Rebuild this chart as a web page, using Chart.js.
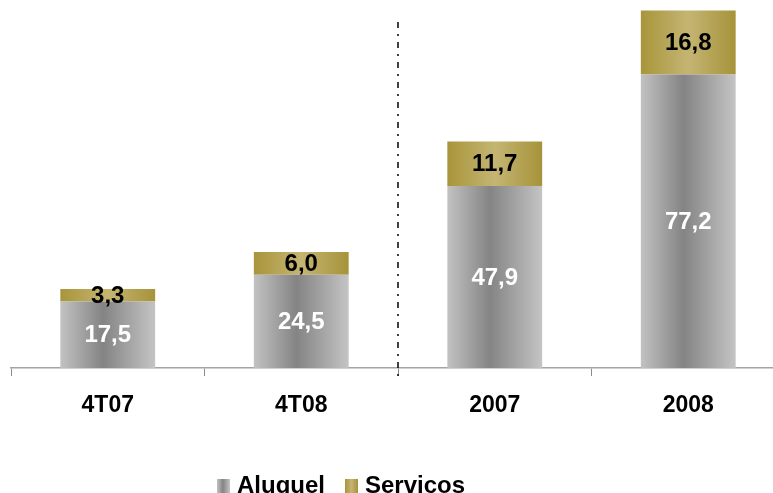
<!DOCTYPE html>
<html>
<head>
<meta charset="utf-8">
<script src="https://cdn.jsdelivr.net/npm/chart.js@4.4.1/dist/chart.umd.min.js"></script>
<style>
  html, body { margin: 0; padding: 0; background: #fff; overflow: hidden; }
  #wrap { position: relative; width: 785px; height: 493px; }
</style>
</head>
<body>
<div id="wrap"><canvas id="chart"></canvas></div>
<script>
"use strict";

var periods = ["4T07", "4T08", "2007", "2008"];
var aluguel = [17.5, 24.5, 47.9, 77.2];
var servicos = [3.3, 6.0, 11.7, 16.8];
var seriesNames = ["Aluguel", "Serviços"];

var FONT = "'Liberation Sans', Arial, sans-serif";
var BAR_PCT = 0.49;
var GRAY_STOPS = [[0, "#c2c2c2"], [0.45, "#848484"], [1, "#c4c4c4"]];
var GOLD_STOPS = [[0, "#a8953a"], [0.5, "#c4b573"], [1, "#a6933a"]];

function fmt(v) { return v.toFixed(1).replace(".", ","); }

function makeGradient(ctx, x0, x1, stops) {
  var g = ctx.createLinearGradient(x0, 0, x1, 0);
  stops.forEach(function (s) { g.addColorStop(s[0], s[1]); });
  return g;
}

// horizontal shading across each bar, built from the category scale
function barFill(stops) {
  return function (c) {
    var chart = c.chart;
    var xs = chart.scales.x;
    if (!chart.chartArea || !xs) return stops[1][1];
    var cx = xs.getPixelForValue(c.dataIndex);
    var half = xs.width / periods.length * BAR_PCT / 2;
    return makeGradient(chart.ctx, cx - half, cx + half, stops);
  };
}

// values centred in each segment
var segmentLabels = {
  id: "segmentLabels",
  afterDatasetsDraw: function (chart) {
    var ctx = chart.ctx;
    ctx.save();
    ctx.font = "bold 24px " + FONT;
    ctx.textAlign = "center";
    ctx.textBaseline = "middle";
    chart.data.datasets.forEach(function (ds, di) {
      var meta = chart.getDatasetMeta(di);
      ctx.fillStyle = di === 0 ? "#ffffff" : "#000000";
      meta.data.forEach(function (bar, i) {
        ctx.fillText(fmt(ds.data[i]), bar.x, (bar.y + bar.base) / 2 + 1);
      });
    });
    ctx.restore();
  }
};

// dash-dot separator between quarterly and yearly groups
var separator = {
  id: "separator",
  afterDatasetsDraw: function (chart) {
    var xs = chart.scales.x;
    var x = (xs.getPixelForValue(1) + xs.getPixelForValue(2)) / 2;
    var ctx = chart.ctx;
    ctx.save();
    ctx.strokeStyle = "#111";
    ctx.lineWidth = 1.6;
    ctx.setLineDash([6, 6, 2, 6]);
    ctx.beginPath();
    ctx.moveTo(x, 22);
    ctx.lineTo(x, chart.chartArea.bottom + 10);
    ctx.stroke();
    ctx.restore();
  }
};

// legend row under the axis
var bottomLegend = {
  id: "bottomLegend",
  afterDraw: function (chart) {
    var ctx = chart.ctx;
    var x = 217, y = 493, box = 13;
    ctx.save();
    ctx.font = "bold 24px " + FONT;
    ctx.textBaseline = "alphabetic";
    ctx.textAlign = "left";
    [GRAY_STOPS, GOLD_STOPS].forEach(function (stops, i) {
      ctx.fillStyle = makeGradient(ctx, x, x + box, stops);
      ctx.fillRect(x, y - box - 1, box, box + 1);
      x += box + 7;
      ctx.fillStyle = "#000";
      ctx.fillText(seriesNames[i], x, y);
      x += ctx.measureText(seriesNames[i]).width + 20;
    });
    ctx.restore();
  }
};

new Chart(document.getElementById("chart"), {
  type: "bar",
  data: {
    labels: periods,
    datasets: [
      { label: seriesNames[0], data: aluguel, backgroundColor: barFill(GRAY_STOPS),
        categoryPercentage: 1, barPercentage: BAR_PCT, borderWidth: 0 },
      { label: seriesNames[1], data: servicos, backgroundColor: barFill(GOLD_STOPS),
        categoryPercentage: 1, barPercentage: BAR_PCT, borderWidth: 0 }
    ]
  },
  options: {
    responsive: true, maintainAspectRatio: false,
    animation: false,
    layout: { padding: { left: 11, right: 0, top: 3, bottom: 0 } },
    scales: {
      x: {
        stacked: true,
        afterFit: function (s) { s.height = 125; },
        border: { color: "#a4a4a4", width: 1.5 },
        grid: { drawOnChartArea: false, drawTicks: true, tickLength: 8, color: "#8c8c8c", offset: true },
        ticks: { color: "#000", padding: 16, font: { family: FONT, size: 23, weight: "bold" } }
      },
      y: { stacked: true, display: false, min: 0, max: 96 }
    },
    plugins: {
      legend: { display: false },
      tooltip: { enabled: false }
    }
  },
  plugins: [segmentLabels, separator, bottomLegend]
});
</script>
</body>
</html>
